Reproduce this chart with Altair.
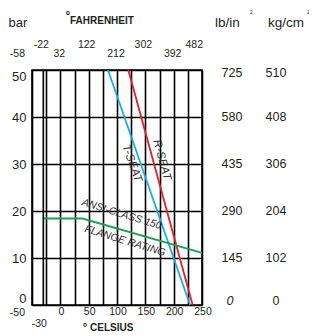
import altair as alt
import pandas as pd

# ---- data ----
celsius_ticks = [-50, -30, 0, 50, 100, 150, 200, 250]
fahrenheit_ticks = ["-58", "-22", "32", "122", "212", "302", "392", "482"]
bar_ticks = [0, 10, 20, 30, 40, 50]
psi_labels = ["0", "145", "290", "435", "580", "725"]
kgcm_labels = ["0", "102", "204", "306", "408", "510"]
grid_c = [-50, -25, 0, 25, 50, 75, 100, 125, 150, 175, 200, 225, 250]

t_seat_c = [84, 229]
t_seat_bar = [50, 0]
r_seat_c = [120, 233.5]
r_seat_bar = [50, 0]
ansi_c = [-30, 39, 250]
ansi_bar = [18.4, 18.4, 11.1]

line_labels = ["T-SEAT", "R-SEAT", "ANSI-CLASS 150", "FLANGE RATING"]
line_label_c = [125.9, 178.9, 108.3, 114.1]
line_label_bar = [30.15, 30.85, 19.3, 13.6]
line_label_angle = [70.5, 74.7, 17, 17]

FONT = "Liberation Sans"
TXT = "#231f20"

series = (
    [("T-SEAT", c, b, i) for i, (c, b) in enumerate(zip(t_seat_c, t_seat_bar))]
    + [("R-SEAT", c, b, i) for i, (c, b) in enumerate(zip(r_seat_c, r_seat_bar))]
    + [("ANSI", c, b, i) for i, (c, b) in enumerate(zip(ansi_c, ansi_bar))]
)
lines_df = pd.DataFrame(series, columns=["series", "c", "bar", "order"])

xs = alt.Scale(domain=[-50, 250], nice=False, zero=False)
ys = alt.Scale(domain=[0, 50], nice=False, zero=False)
xaxis = alt.Axis(values=grid_c, grid=True, gridColor="black", gridWidth=1.6,
                 labels=False, ticks=False, domain=False, title=None)
yaxis = alt.Axis(values=bar_ticks, grid=True, gridColor="black", gridWidth=1.6,
                 ticks=False, domain=False, labelFontSize=13, labelFont=FONT,
                 labelColor=TXT, labelPadding=6, labelFlush=True, title=None)
X = alt.X("c:Q", scale=xs, axis=xaxis)
Y = alt.Y("bar:Q", scale=ys, axis=yaxis)

lines = alt.Chart(lines_df).mark_line(strokeWidth=1.8).encode(
    x=X, y=Y, detail="series:N", order="order:Q",
    color=alt.Color("series:N", scale=alt.Scale(
        domain=["T-SEAT", "R-SEAT", "ANSI"],
        range=["#17aee8", "#e41e2b", "#1aa24c"]), legend=None),
)

rule_df = pd.DataFrame({"c": [celsius_ticks[1]]})
rule30 = alt.Chart(rule_df).mark_rule(color="black", strokeWidth=1.6).encode(x=X)

# Fahrenheit labels (top)
f_df = pd.DataFrame({"c": celsius_ticks, "label": fahrenheit_ticks,
                     "i": list(range(len(celsius_ticks)))})

def ftext(filt, y, **kw):
    return alt.Chart(f_df).transform_filter(filt).mark_text(
        font=FONT, fontSize=10.5, color=TXT, baseline="alphabetic", **kw
    ).encode(x=X, y=alt.value(y), text="label:N")

f_layers = [
    ftext("datum.i == 0", -13, align="right", dx=-7),
    ftext("datum.i % 2 == 0 && datum.i > 0", -13, align="center", dx=-1),
    ftext("datum.i % 2 == 1 && datum.i < 7", -22, align="center", dx=-2),
    ftext("datum.i == 7", -22, align="right", dx=1),
]

# Celsius labels (bottom)
c_df = pd.DataFrame({"c": celsius_ticks, "label": [str(v) for v in celsius_ticks],
                     "i": list(range(len(celsius_ticks)))})

def ctext(filt, y, **kw):
    return alt.Chart(c_df).transform_filter(filt).mark_text(
        font=FONT, fontSize=10.5, color=TXT, baseline="alphabetic", **kw
    ).encode(x=X, y=alt.value(y), text="label:N")

c_layers = [
    ctext("datum.i == 0", 246, align="right", dx=-7),
    ctext("datum.i == 1", 256.5, align="center", dx=-4),
    ctext("datum.i > 1", 245, align="center", dx=1),
]

# Right-hand pressure columns
r_df = pd.DataFrame({"bar": bar_ticks, "psi": psi_labels, "kg": kgcm_labels})

def rtext(field, xpx, filt, dy, **kw):
    return alt.Chart(r_df).transform_filter(filt).mark_text(
        font=FONT, fontSize=12.5, color=TXT, baseline="middle", align="center", dy=dy, **kw
    ).encode(x=alt.value(xpx), y=Y, text=f"{field}:N")

r_layers = [
    rtext("psi", 200, "datum.bar > 0 && datum.bar < 50", 0),
    rtext("psi", 200, "datum.bar == 50", 3),
    rtext("psi", 198, "datum.bar == 0", -4, fontStyle="italic"),
    rtext("kg", 244, "datum.bar > 0 && datum.bar < 50", 0),
    rtext("kg", 244, "datum.bar == 50", 3),
    rtext("kg", 244, "datum.bar == 0", -4),
]

# Line annotations
ann_df = pd.DataFrame({"label": line_labels, "c": line_label_c,
                       "bar": line_label_bar, "angle": line_label_angle})

def ann(i, size):
    return alt.Chart(ann_df).transform_filter(f"datum.label == '{line_labels[i]}'").mark_text(
        font=FONT, fontSize=size, fontStyle="italic", color="#333333",
        align="center", baseline="middle", angle=line_label_angle[i]
    ).encode(x=X, y=Y, text="label:N")

ann_layers = [ann(0, 11.5), ann(1, 11.5), ann(2, 10.5), ann(3, 10.5)]

# Headers / titles
def label(text, x, y, size, align="left", weight="normal", baseline="alphabetic"):
    return alt.Chart(pd.DataFrame({"t": [text]})).mark_text(
        text=text, font=FONT, fontSize=size, fontWeight=weight, color=TXT,
        align=align, baseline=baseline
    ).encode(x=alt.value(x), y=alt.value(y))

titles = [
    label("bar", -14, -43, 13, align="center"),
    label("°", 36, -50, 12, align="center", weight="bold"),
    label("FAHRENHEIT", 38, -46, 10, weight="bold"),
    label("lb/in", 183, -43, 13.5),
    label("2", 218, -56, 5),
    label("kg/cm", 236, -43, 13.5),
    label("2", 275, -56, 5),
    label("°", 53, 261, 11, align="center", weight="bold"),
    label("CELSIUS", 58, 261, 10, weight="bold"),
]

chart = alt.layer(
    lines, rule30, *f_layers, *c_layers, *r_layers, *ann_layers, *titles
).properties(
    width=170, height=235,
    padding={"left": 24, "top": 62, "right": 107, "bottom": 27},
    autosize=alt.AutoSizeParams(type="none"),
).configure_view(stroke="black", strokeWidth=1.6)

chart.save("out.html", embed_options={"renderer": "svg", "actions": False})
